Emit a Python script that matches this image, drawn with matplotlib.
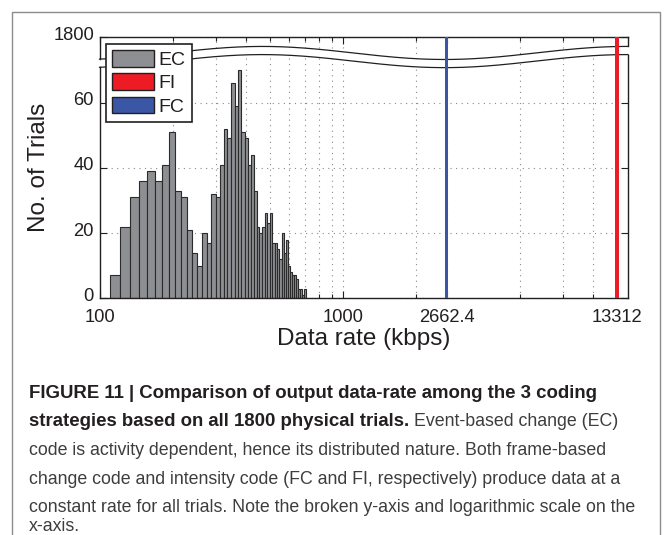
import numpy as np
import matplotlib
matplotlib.use("Agg")
import matplotlib.pyplot as plt
from matplotlib.patches import Patch, Rectangle
from matplotlib.ticker import NullFormatter
from matplotlib.transforms import ScaledTranslation

plt.rcParams['font.family'] = ['Liberation Sans', 'DejaVu Sans']

# EC code: equal-width histogram bins (kbps) and trial counts per bin
ec_bin_start = 110.0
ec_bin_width = 11.85
ec_counts = [7, 22, 31, 36, 39, 36, 41, 51, 33, 31,
             21, 14, 10, 20, 17, 32, 31, 41, 52, 49,
             66, 59, 70, 51, 49, 41, 44, 33, 22, 20,
             22, 26, 23, 26, 17, 17, 15, 12, 20, 14,
             18, 10, 8, 7, 7, 6, 3, 3, 1, 3]

# FC and FI codes: constant rate, every trial falls in one bin
fc_rate = 2662.4
fi_rate = 13312
n_trials = 1800

xtick_values = [100, 1000, 2662.4, 13312]
xtick_labels = ['100', '1000', '2662.4', '13312']
x_minor = [200, 300, 400, 500, 600, 700, 800, 900,
           2000, 5324.8, 7987.2, 10649.6]
ytick_low = [0, 20, 40, 60]

EC_COLOR = '#8e8f93'
FI_COLOR = '#ed1c24'
FC_COLOR = '#3a56a5'
INK = '#231f20'

# broken y-axis: the lower part is linear, the top tick stands for n_trials
Y_TOP = 80


def to_axis_y(count):
    if count <= 70:
        return count
    return Y_TOP - (n_trials - count) / 100.0


fig = plt.figure(figsize=(6.72, 5.35), dpi=100)
ax = fig.add_axes([99.5 / 672, 1 - 298.3 / 535, 528.5 / 672, 261 / 535])

edges = ec_bin_start + ec_bin_width * np.arange(len(ec_counts) + 1)
ax.bar(edges[:-1], ec_counts, width=np.diff(edges), align='edge',
       color=EC_COLOR, edgecolor='#2b2b2b', linewidth=0.8, zorder=2)

# the two constant-rate codes drawn as thin full-height bars
ax.bar([fc_rate], [to_axis_y(n_trials)], width=fc_rate * 0.029,
       color=FC_COLOR, linewidth=0, zorder=5)
ax.bar([fi_rate], [to_axis_y(n_trials)], width=fi_rate * 0.034,
       color=FI_COLOR, linewidth=0, zorder=5)

ax.set_xscale('log')
ax.set_xlim(100, 14800)
ax.set_ylim(0, Y_TOP)

ax.set_xticks(xtick_values)
ax.set_xticklabels(xtick_labels)
ax.set_xticks(x_minor, minor=True)
ax.xaxis.set_minor_formatter(NullFormatter())
ax.set_yticks(ytick_low + [Y_TOP])
ax.set_yticklabels([str(v) for v in ytick_low] + [str(n_trials)])

ax.tick_params(which='both', direction='in', top=True, right=True,
               colors=INK, labelsize=13.2, width=0.8)
ax.tick_params(which='major', length=5)
ax.tick_params(which='minor', length=3)
ax.tick_params(axis='x', pad=8)
ax.tick_params(axis='y', pad=4)

# y labels sit a little above their ticks
lift = ScaledTranslation(0, 0.04, fig.dpi_scale_trans)
for lab in ax.get_yticklabels():
    lab.set_transform(lab.get_transform() + lift)

ax.set_axisbelow(True)
grid_kw = dict(color='#8a8a8a', linestyle=(0, (1, 4)), linewidth=0.8)
ax.grid(True, which='both', axis='x', **grid_kw)
ax.grid(True, which='major', axis='y', **grid_kw)
ax.xaxis.get_major_ticks()[0].gridline.set_visible(False)

ax.set_xlabel('Data rate (kbps)', fontsize=17.5, color=INK, labelpad=1)
ax.set_ylabel('No. of Trials', fontsize=17.5, color=INK, labelpad=2)

# axis break: white wavy band across the plot
trans = ax.get_yaxis_transform()
f = np.linspace(0, 1, 400)
wave_hi = 75.2 + 2.0 * np.cos(2 * np.pi * (f - 0.308) / 0.69)
wave_lo = wave_hi - 2.5
ax.fill_between(f, wave_lo, wave_hi, transform=trans, color='white',
                linewidth=0, zorder=3)
for w in (wave_hi, wave_lo):
    ax.plot(f, w, transform=trans, color=INK, linewidth=0.9, zorder=4,
            clip_on=False)

# side spines interrupted at the break
for side in ('left', 'right'):
    ax.spines[side].set_visible(False)
for xa, i in ((0, 0), (1, -1)):
    ax.plot([xa, xa], [0, wave_lo[i]], transform=trans, color=INK,
            linewidth=1.0, zorder=6, clip_on=False)
    ax.plot([xa, xa], [wave_hi[i], Y_TOP], transform=trans, color=INK,
            linewidth=1.0, zorder=6, clip_on=False)
for side in ('top', 'bottom'):
    ax.spines[side].set_color(INK)
    ax.spines[side].set_linewidth(1.0)

handles = [Patch(facecolor=EC_COLOR, edgecolor=INK, linewidth=1, label='EC'),
           Patch(facecolor=FI_COLOR, edgecolor=INK, linewidth=1, label='FI'),
           Patch(facecolor=FC_COLOR, edgecolor=INK, linewidth=1, label='FC')]
leg = ax.legend(handles=handles, loc='upper left', fontsize=14,
                frameon=True, fancybox=False, framealpha=1,
                edgecolor=INK, borderpad=0.3, labelspacing=0.22,
                handlelength=2.15, handleheight=0.95, handletextpad=0.25,
                borderaxespad=0.35)
leg.get_frame().set_linewidth(1.2)
leg.set_zorder(10)
for t in leg.get_texts():
    t.set_color(INK)

# panel frame
fig.add_artist(Rectangle((12 / 672, -0.02), 648 / 672, 523 / 535 + 0.02,
                         transform=fig.transFigure, fill=False,
                         edgecolor='#8a8c8f', linewidth=1.0))

# caption
cx = 29 / 672
bold_kw = dict(fontsize=13.4, fontweight='bold', color=INK,
               ha='left', va='baseline')
reg_kw = dict(fontsize=12.8, color='#3d3d3f', ha='left', va='baseline')

fig.text(cx, 1 - 398 / 535,
         'FIGURE 11 | Comparison of output data-rate among the 3 coding',
         **bold_kw)
b2 = fig.text(cx, 1 - 426.5 / 535,
              'strategies based on all 1800 physical trials.', **bold_kw)
renderer = fig.canvas.get_renderer()
bb = b2.get_window_extent(renderer)
fig.text((bb.x1 + 5) / 672, 1 - 426.5 / 535, 'Event-based change (EC)',
         **reg_kw)
fig.text(cx, 1 - 455 / 535,
         'code is activity dependent, hence its distributed nature. '
         'Both frame-based', **reg_kw)
fig.text(cx, 1 - 483.5 / 535,
         'change code and intensity code (FC and FI, respectively) '
         'produce data at a', **reg_kw)
fig.text(cx, 1 - 512 / 535,
         'constant rate for all trials. Note the broken y-axis and '
         'logarithmic scale on the', **reg_kw)
fig.text(cx, 1 - 531 / 535, 'x-axis.', **reg_kw)

fig.savefig('out.png', dpi=100)
